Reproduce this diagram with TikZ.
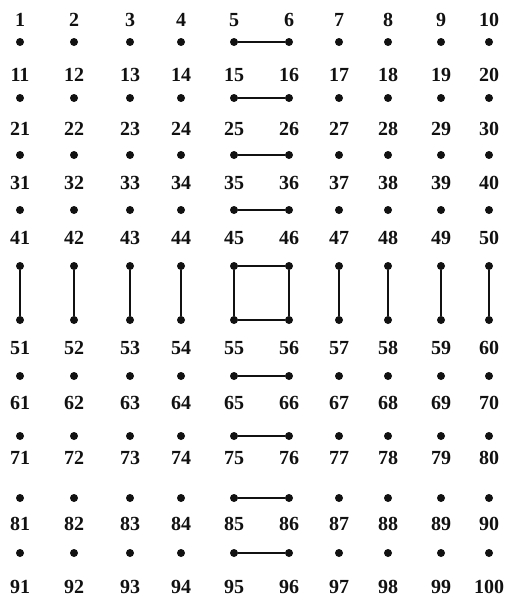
\documentclass[tikz,border=0pt]{standalone}
\usepackage{fontspec}
\setmainfont{Liberation Serif}
\usepackage{tikz}
\usetikzlibrary{positioning}
\definecolor{ink}{HTML}{111111}
\tikzset{
  dot/.style={circle, fill=ink, draw=none, minimum size=8pt, inner sep=0pt},
  num/.style={text=ink, font=\bfseries\fontsize{20}{20}\selectfont, inner sep=0pt},
  link/.style={draw=ink, line width=1.3pt}
}
\begin{document}
\begin{tikzpicture}[x=1pt, y=-1pt]
  \useasboundingbox (0,0) rectangle (517,605);

  % grid of points, numbers above (rows 1-5) or below (rows 6-10)
  \foreach \r/\dy/\ly in {0/42/20, 1/98/75, 2/155/129, 3/210/183, 4/266/238,
                          5/320/348, 6/376/403, 7/436/458, 8/498/524, 9/553/587}
    \foreach \c/\x in {1/20, 2/74, 3/130, 4/181, 5/234, 6/289, 7/339, 8/388, 9/441, 10/489} {
      \pgfmathtruncatemacro\n{10*\r+\c}
      \node[dot] (p\n) at (\x,\dy) {};
      \node[num] (l\n) at (\x,\ly) {\n};
    }

  \foreach \a/\b in {5/6, 15/16, 25/26, 35/36, 45/46, 55/56, 65/66, 75/76, 85/86, 95/96}
    \draw[link] (p\a) -- (p\b);
  \foreach \a/\b in {41/51, 42/52, 43/53, 44/54, 45/55, 46/56, 47/57, 48/58, 49/59, 50/60}
    \draw[link] (p\a) -- (p\b);
\end{tikzpicture}
\end{document}
